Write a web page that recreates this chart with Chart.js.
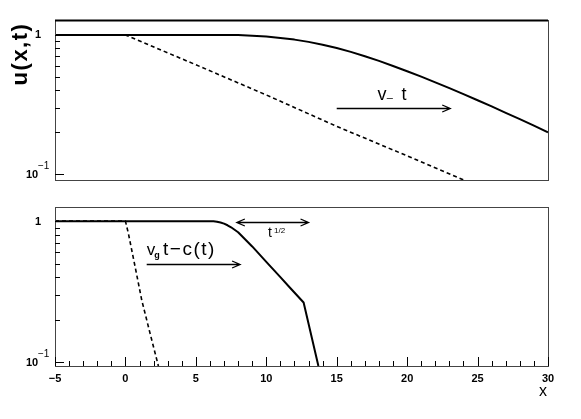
<!DOCTYPE html>
<html><head><meta charset="utf-8">
<script src="https://cdn.jsdelivr.net/npm/chart.js@4"></script>
<style>
html,body{margin:0;padding:0;background:#fff;}
#wrap{position:relative;width:581px;height:419px;overflow:hidden;}
canvas{position:absolute;left:0;}
#c1{top:0;}
#c2{top:200px;}
</style></head><body>
<div id="wrap">
<canvas id="c1" width="581" height="200"></canvas>
<canvas id="c2" width="581" height="219"></canvas>
</div>
<script>
// ---------- data ----------
const xTickValues = [-5, 0, 5, 10, 15, 20, 25, 30];
const xMinorTicks = [-4,-3,-2,-1,1,2,3,4,6,7,8,9,11,12,13,14,16,17,18,19,21,22,23,24,26,27,28,29];
const yMajorTicks = [0.1, 1];
const yMinorTicks = [0.2, 0.3, 0.4, 0.5, 0.6, 0.7, 0.8, 0.9];

// top panel
const topSolidX = [-5, 7, 8, 9, 10, 11, 12, 13, 14, 15, 16, 17, 18, 19, 20, 21, 22, 23, 24, 25, 26, 27, 28, 29, 30];
const topSolidY = [1, 1, 0.997, 0.986, 0.973, 0.951, 0.925, 0.891, 0.851, 0.805, 0.755, 0.703, 0.650, 0.598, 0.548, 0.501, 0.456, 0.414, 0.375, 0.339, 0.306, 0.275, 0.248, 0.223, 0.1995];
const topDashX = [-5, 0, 5, 10, 15, 20, 25];
const topDashY = [1, 1, 0.61, 0.37, 0.22, 0.135, 0.082];

// bottom panel
const botSolidX = [-5, 6, 6.25, 6.5, 6.75, 7, 7.25, 7.5, 8, 9, 10, 11, 11.7, 12.65, 13.7, 14.1];
const botSolidY = [1, 1, 0.998, 0.99, 0.978, 0.96, 0.935, 0.905, 0.835, 0.662, 0.515, 0.401, 0.336, 0.265, 0.094, 0.07];
const botDashX = [-5, 0, 0.21, 0.69, 1.16, 1.75, 2.34, 2.6];
const botDashY = [1, 1, 0.818, 0.474, 0.275, 0.16, 0.094, 0.078];

const FONT = '"Liberation Sans", Arial, Helvetica, sans-serif';

function pts(xs, ys) { return xs.map((x, i) => ({x: x, y: ys[i]})); }

function arrow(ctx, x1, y, x2, both) {
  ctx.beginPath();
  ctx.moveTo(x1, y); ctx.lineTo(x2, y);
  ctx.moveTo(x2 - 8, y - 3.5); ctx.lineTo(x2, y); ctx.lineTo(x2 - 8, y + 3.5);
  if (both) { ctx.moveTo(x1 + 8, y - 3.5); ctx.lineTo(x1, y); ctx.lineTo(x1 + 8, y + 3.5); }
  ctx.stroke();
}

const framePlugin = {
  id: 'frame',
  afterDraw(chart, args, opts) {
    const ctx = chart.ctx, a = chart.chartArea, xs = chart.scales.x, ys = chart.scales.y;
    ctx.save();
    // frame
    ctx.strokeStyle = '#444'; ctx.lineWidth = 1;
    ctx.strokeRect(Math.round(a.left) + 0.5, Math.round(a.top) + 0.5, Math.round(a.right - a.left), Math.round(a.bottom - a.top));
    if (opts.heavyTop) {
      ctx.strokeStyle = '#000'; ctx.lineWidth = 2;
      ctx.beginPath(); ctx.moveTo(a.left, Math.round(a.top) + 0.5); ctx.lineTo(a.right, Math.round(a.top) + 0.5); ctx.stroke();
    }
    ctx.strokeStyle = '#000'; ctx.lineWidth = 1;
    // y ticks (inside, left)
    ctx.beginPath();
    yMajorTicks.forEach(v => { const p = Math.round(ys.getPixelForValue(v)) + 0.5; ctx.moveTo(a.left, p); ctx.lineTo(a.left + 9, p); });
    yMinorTicks.forEach(v => { const p = Math.round(ys.getPixelForValue(v)) + 0.5; ctx.moveTo(a.left, p); ctx.lineTo(a.left + 5, p); });
    ctx.stroke();
    // x ticks (inside, bottom)
    if (opts.xTicks) {
      ctx.beginPath();
      xTickValues.forEach(v => { const p = Math.round(xs.getPixelForValue(v)) + 0.5; ctx.moveTo(p, a.bottom); ctx.lineTo(p, a.bottom - 9); });
      xMinorTicks.forEach(v => { const p = Math.round(xs.getPixelForValue(v)) + 0.5; ctx.moveTo(p, a.bottom); ctx.lineTo(p, a.bottom - 5); });
      ctx.stroke();
    }
    // y tick labels
    ctx.fillStyle = '#000';
    ctx.textBaseline = 'middle';
    ctx.textAlign = 'right';
    ctx.font = 'bold 11px ' + FONT;
    const p1 = ys.getPixelForValue(1);
    ctx.fillText('1', a.left - 14, p1 + 0.5);
    const p01 = ys.getPixelForValue(0.1);
    ctx.textAlign = 'left';
    ctx.fillText('10', a.left - 29, p01 + 1);
    ctx.font = '10px ' + FONT;
    ctx.fillText('\u22121', a.left - 17, p01 - 8);
    // annotations
    ctx.lineWidth = 1.3;
    (opts.notes || []).forEach(n => {
      const X = v => xs.getPixelForValue(v), Y = v => ys.getPixelForValue(v);
      if (n.type === 'arrow') arrow(ctx, X(n.x1), Math.round(Y(n.y)) + 0.5, X(n.x2), n.both);
      else {
        ctx.font = n.font + ' ' + FONT;
        ctx.textAlign = 'left'; ctx.textBaseline = 'alphabetic';
        ctx.letterSpacing = (n.ls || 0) + 'px';
        ctx.fillText(n.text, X(n.x), Y(n.y) + (n.dy || 0));
        ctx.letterSpacing = '0px';
      }
    });
    // axis titles
    if (opts.yTitle) {
      ctx.save();
      ctx.translate(21, 54);
      ctx.rotate(-Math.PI / 2);
      ctx.font = 'bold 22px ' + FONT;
      ctx.textAlign = 'center'; ctx.textBaseline = 'middle';
      ctx.letterSpacing = '1.5px';
      ctx.fillText(opts.yTitle, 0, 0);
      ctx.restore();
    }
    if (opts.xTitle) {
      ctx.font = '16px ' + FONT;
      ctx.textAlign = 'center'; ctx.textBaseline = 'middle';
      ctx.fillText(opts.xTitle, xs.getPixelForValue(30) - 5, a.bottom + 26);
    }
    ctx.restore();
  }
};

function lineDs(data, dashed) {
  return {
    data: data,
    borderColor: '#000',
    borderWidth: dashed ? 1.6 : 2,
    borderDash: dashed ? [4, 3] : [],
    borderJoinStyle: 'round',
    pointRadius: 0,
    fill: false,
    tension: 0
  };
}

Chart.register(framePlugin);

new Chart(document.getElementById('c1'), {
  type: 'line',
  data: { datasets: [lineDs(pts(topSolidX, topSolidY), false), lineDs(pts(topDashX, topDashY), true)] },
  options: {
    responsive: false, animation: false,
    layout: { padding: { left: 55, right: 33, top: 20, bottom: 20 } },
    plugins: { legend: { display: false }, tooltip: { enabled: false },
      frame: { heavyTop: true, xTicks: false, yTitle: 'u(x,t)',
        notes: [
          { type: 'arrow', x1: 15.0, x2: 23.06, y: 0.297 },
          { type: 'text', text: 'v', x: 17.9, y: 0.34, font: '18px' },
          { type: 'text', text: '\u2013', x: 18.55, y: 0.34, dy: 1, font: '11px' },
          { type: 'text', text: 't', x: 19.6, y: 0.34, font: '18px' }
        ] } },
    scales: {
      x: { type: 'linear', min: -5, max: 30, display: false },
      y: { type: 'logarithmic', min: 0.0905, max: 1.28, display: false }
    }
  }
});

new Chart(document.getElementById('c2'), {
  type: 'line',
  data: { datasets: [lineDs(pts(botSolidX, botSolidY), false), lineDs(pts(botDashX, botDashY), true)] },
  options: {
    responsive: false, animation: false,
    layout: { padding: { left: 55, right: 33, top: 7, bottom: 0 } },
    plugins: { legend: { display: false }, tooltip: { enabled: false },
      frame: { heavyTop: false, xTicks: true, xTitle: 'x',
        notes: [
          { type: 'arrow', x1: 1.51, x2: 8.14, y: 0.493 },
          { type: 'arrow', x1: 7.91, x2: 13.0, y: 0.989, both: true },
          { type: 'text', text: 'v', x: 1.51, y: 0.574, font: '17px' },
          { type: 'text', text: 'g', x: 2.05, y: 0.574, dy: 3, font: 'bold 9px' },
          { type: 'text', text: 't\u2212c(t)', x: 2.67, y: 0.574, font: '19px', ls: 1.5 },
          { type: 'text', text: 't', x: 10.13, y: 0.77, font: '14px' },
          { type: 'text', text: '1/2', x: 10.55, y: 0.77, dy: -4, font: '8px' }
        ] } },
    scales: {
      x: { type: 'linear', min: -5, max: 30, display: true,
        grid: { display: false, drawTicks: false }, border: { display: false },
        afterBuildTicks: s => { s.ticks = xTickValues.map(v => ({ value: v })); },
        afterFit: s => { s.height = 53; },
        ticks: { padding: 6, color: '#000', font: { family: FONT, size: 11, weight: 'bold' }, maxRotation: 0, autoSkip: false,
          callback: v => (v < 0 ? '\u2212' + Math.abs(v) : String(v)) } },
      y: { type: 'logarithmic', min: 0.094, max: 1.26, display: false }
    }
  }
});
</script>
</body></html>
